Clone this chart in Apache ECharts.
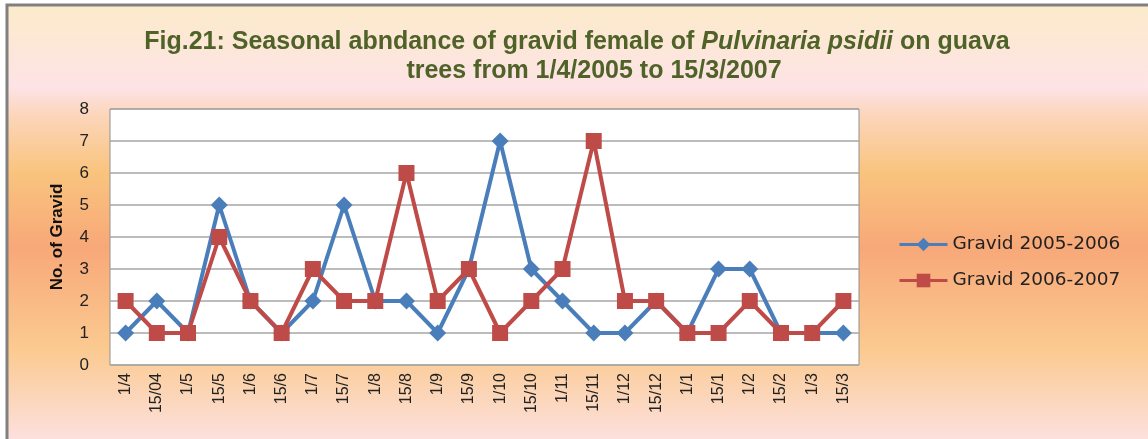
<!DOCTYPE html>
<html><head><meta charset="utf-8">
<style>html,body{margin:0;padding:0;background:#fff}#c{width:1148px;height:439px}</style>
<script src="https://cdn.jsdelivr.net/npm/echarts@6/dist/echarts.min.js"></script>
</head><body><div id="c"></div>
<script>
const categories = ['1/4','15/04','1/5','15/5','1/6','15/6','1/7','15/7','1/8','15/8','1/9','15/9','1/10','15/10','1/11','15/11','1/12','15/12','1/1','15/1','1/2','15/2','1/3','15/3'];
const gravid0506 = [1,2,1,5,2,1,2,5,2,2,1,3,7,3,2,1,1,2,1,3,3,1,1,1];
const gravid0607 = [2,1,1,4,2,1,3,2,2,6,2,3,1,2,3,7,2,2,1,1,2,1,1,2];
const yTicks = [0,1,2,3,4,5,6,7,8];

const chart = echarts.init(document.getElementById('c'));
const font = 'Liberation Sans, Arial, sans-serif';
chart.setOption({
  animation: false,
  graphic: [
    { type: 'rect', z: -10, shape: { x: 7, y: 5, width: 1150, height: 440 },
      style: { fill: new echarts.graphic.LinearGradient(0, 0, 0, 1, [
        { offset: 0, color: '#fcebca' },
        { offset: 0.19, color: '#fde3e6' },
        { offset: 0.25, color: '#fcd6bc' },
        { offset: 0.38, color: '#f9c47e' },
        { offset: 0.55, color: '#f8a878' },
        { offset: 0.78, color: '#fbca90' },
        { offset: 1, color: '#fde2e4' }
      ]), stroke: '#808080', lineWidth: 3 } },
    { type: 'text', z: 10, x: 577, y: 42, style: {
        text: '{n|Fig.21: Seasonal abndance of gravid female of }{i|Pulvinaria psidii}{n| on guava}',
        align: 'center', verticalAlign: 'middle',
        rich: {
          n: { fontFamily: font, fontSize: 25, fontWeight: 'bold', fill: '#4f6228', color: '#4f6228' },
          i: { fontFamily: font, fontSize: 25, fontWeight: 'bold', fontStyle: 'italic', fill: '#4f6228', color: '#4f6228' }
        } } },
    { type: 'text', z: 10, x: 594, y: 71, style: {
        text: 'trees from 1/4/2005 to 15/3/2007', align: 'center', verticalAlign: 'middle',
        fontFamily: font, fontSize: 25, fontWeight: 'bold', fill: '#4f6228' } }
  ],
  grid: { left: 110, right: 289, top: 109, bottom: 74, backgroundColor: '#fff', show: true, borderColor: '#909090', borderWidth: 1 },
  legend: {
    orient: 'vertical', left: 893, top: 230, itemGap: 17, itemWidth: 48, itemHeight: 17,
    lineStyle: { width: 3 },
    textStyle: { fontFamily: 'DejaVu Sans, sans-serif', fontSize: 18.5, color: '#222' },
    data: ['Gravid 2005-2006', 'Gravid 2006-2007']
  },
  xAxis: {
    type: 'category', data: categories, boundaryGap: true,
    axisLine: { show: false }, axisTick: { show: false },
    axisLabel: { rotate: 90, interval: 0, fontFamily: font, fontSize: 16, color: '#222', margin: 8 }
  },
  yAxis: {
    type: 'value', min: 0, max: 8, interval: 1,
    name: 'No. of Gravid', nameLocation: 'middle', nameGap: 44,
    nameTextStyle: { fontFamily: font, fontSize: 17, fontWeight: 'bold', color: '#111' },
    axisLine: { show: false }, axisTick: { show: false },
    axisLabel: { fontFamily: font, fontSize: 17, color: '#222', margin: 21,
      formatter: v => yTicks.includes(v) ? String(v) : '' },
    splitLine: { lineStyle: { color: '#a6a6a6', width: 1.5 } }
  },
  series: [
    { name: 'Gravid 2005-2006', type: 'line', data: gravid0506, symbol: 'diamond', symbolSize: 17,
      itemStyle: { color: '#4a7ebb' }, lineStyle: { color: '#4a7ebb', width: 4 } },
    { name: 'Gravid 2006-2007', type: 'line', data: gravid0607, symbol: 'rect', symbolSize: 16,
      itemStyle: { color: '#be4b48' }, lineStyle: { color: '#be4b48', width: 4 } }
  ]
});
</script></body></html>
